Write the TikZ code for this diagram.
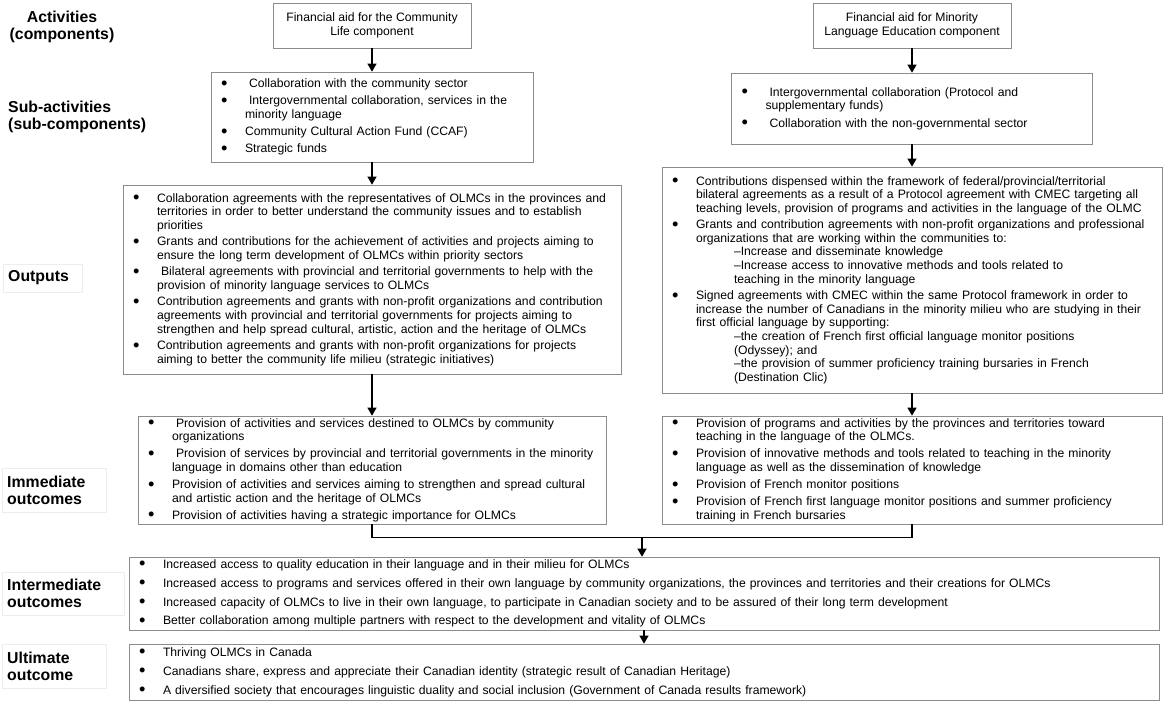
\documentclass[tikz,border=0pt]{standalone}
\usepackage{fontspec}
\setmainfont{Liberation Sans}
\usepackage{tikz}
\usetikzlibrary{positioning,arrows.meta,calc,shadows}

\newcommand{\bu}{\makebox[0.72cm][l]{\raisebox{-0.25ex}{\scalebox{1.5}{\textbullet}}}}
\newcommand{\ci}{\hspace*{0.72cm}}
\newcommand{\si}{\hspace*{1.86cm}}

\begin{document}
\begin{tikzpicture}[
    >={Triangle[length=0.24cm,width=0.27cm]},
    font=\fontsize{10.4}{11.6}\selectfont,
    box/.style={
        draw=black!45,
        line width=0.6pt,
        fill=white,
        drop shadow={shadow xshift=0.5pt,shadow yshift=-0.7pt,opacity=0.25},
        inner xsep=0.3cm,
        inner ysep=0pt
    },
    top/.style={box, align=center, minimum width=5.94cm, minimum height=1.35cm},
    blist/.style={box, align=left},
    lbl/.style={
        draw=black!7,
        font=\bfseries\fontsize{13.5}{14.5}\selectfont,
        align=left,
        inner xsep=0.15cm,
        anchor=west
    },
    arr/.style={->, line width=1.1pt}
]
\useasboundingbox (0,0) rectangle (35.1,-21.15);

% row labels
\node[lbl, draw=none, align=center, anchor=center] (lact) at (1.86,-0.81)
{Activities\\(components)};
\node[lbl, draw=none] (lsub) at (0.09,-3.51)
{Sub-activities\\(sub-components)};
\node[lbl, text width=2.07cm, minimum height=0.84cm] (lout) at (0.09,-8.34)
{Outputs};
\node[lbl, text width=2.82cm, minimum height=1.32cm] (limm) at (0.06,-14.7)
{Immediate\\outcomes};
\node[lbl, text width=3.36cm, minimum height=1.29cm] (lint) at (0.06,-17.8)
{Intermediate\\outcomes};
\node[lbl, text width=2.82cm, minimum height=1.32cm] (lult) at (0.06,-19.98)
{Ultimate\\outcome};

% components
\node[top] (a1) at (11.16,-0.765)
{Financial aid for the Community\\Life component};
\node[top] (a2) at (27.36,-0.765)
{Financial aid for Minority\\Language Education component};

% sub-components
\node[blist, text width=9.06cm, minimum height=2.7cm] (s1) at (11.16,-3.51)
{\bu\ Collaboration with the community sector\\[3pt]
\bu\ Intergovernmental collaboration, services in the\\
\ci minority language\\[3pt]
\bu Community Cultural Action Fund (CCAF)\\[3pt]
\bu Strategic funds};
\node[blist, text width=10.23cm, minimum height=2.13cm] (s2) at (27.36,-3.255)
{\bu\ Intergovernmental collaboration (Protocol and\\
\ci supplementary funds)\\[3pt]
\bu\ Collaboration with the non-governmental sector};

% outputs
\node[blist, text width=14.34cm, minimum height=5.67cm] (o1) at (11.16,-8.385)
{\bu Collaboration agreements with the representatives of OLMCs in the provinces and\\
\ci territories in order to better understand the community issues and to establish\\
\ci priorities\\[2.5pt]
\bu Grants and contributions for the achievement of activities and projects aiming to\\
\ci ensure the long term development of OLMCs within priority sectors\\[2.5pt]
\bu\ Bilateral agreements with provincial and territorial governments to help with the\\
\ci provision of minority language services to OLMCs\\[2.5pt]
\bu Contribution agreements and grants with non-profit organizations and contribution\\
\ci agreements with provincial and territorial governments for projects aiming to\\
\ci strengthen and help spread cultural, artistic, action and the heritage of OLMCs\\[2.5pt]
\bu Contribution agreements and grants with non-profit organizations for projects\\
\ci aiming to better the community life milieu (strategic initiatives)};
\node[blist, text width=14.4cm, minimum height=6.78cm] (o2) at (27.36,-8.4)
{\bu Contributions dispensed within the framework of federal/provincial/territorial\\
\ci bilateral agreements as a result of a Protocol agreement with CMEC targeting all\\
\ci teaching levels, provision of programs and activities in the language of the OLMC\\[2.5pt]
\bu Grants and contribution agreements with non-profit organizations and professional\\
\ci organizations that are working within the communities to:\\
\si --Increase and disseminate knowledge\\
\si --Increase access to innovative methods and tools related to\\
\si teaching in the minority language\\[2.5pt]
\bu Signed agreements with CMEC within the same Protocol framework in order to\\
\ci increase the number of Canadians in the minority milieu who are studying in their\\
\ci first official language by supporting:\\
\si --the creation of French first official language monitor positions\\
\si (Odyssey); and\\
\si --the provision of summer proficiency training bursaries in French\\
\si (Destination Clic)};

% immediate outcomes
\node[blist, text width=13.44cm, minimum height=3.24cm] (i1) at (11.16,-14.1)
{\bu\ Provision of activities and services destined to OLMCs by community\\
\ci organizations\\[3pt]
\bu\ Provision of services by provincial and territorial governments in the minority\\
\ci language in domains other than education\\[3pt]
\bu Provision of activities and services aiming to strengthen and spread cultural\\
\ci and artistic action and the heritage of OLMCs\\[3pt]
\bu Provision of activities having a strategic importance for OLMCs};
\node[blist, text width=14.4cm, minimum height=3.24cm] (i2) at (27.36,-14.1)
{\bu Provision of programs and activities by the provinces and territories toward\\
\ci teaching in the language of the OLMCs.\\[3pt]
\bu Provision of innovative methods and tools related to teaching in the minority\\
\ci language as well as the dissemination of knowledge\\[3pt]
\bu Provision of French monitor positions\\[3pt]
\bu Provision of French first language monitor positions and summer proficiency\\
\ci training in French bursaries};

% intermediate and ultimate outcomes
\node[blist, text width=30.3cm, minimum height=2.19cm] (im) at (19.32,-17.805)
{\bu Increased access to quality education in their language and in their milieu for OLMCs\\[4.5pt]
\bu Increased access to programs and services offered in their own language by community organizations, the provinces and territories and their creations for OLMCs\\[4.5pt]
\bu Increased capacity of OLMCs to live in their own language, to participate in Canadian society and to be assured of their long term development\\[4.5pt]
\bu Better collaboration among multiple partners with respect to the development and vitality of OLMCs};
\node[blist, text width=30.3cm, minimum height=1.68cm] (u) at (19.32,-20.16)
{\bu Thriving OLMCs in Canada\\[4.5pt]
\bu Canadians share, express and appreciate their Canadian identity (strategic result of Canadian Heritage)\\[4.5pt]
\bu A diversified society that encourages linguistic duality and social inclusion (Government of Canada results framework)};

\draw[arr] (a1) -- (s1);
\draw[arr] (a2) -- (s2);
\draw[arr] (s1) -- (o1);
\draw[arr] (s2) -- (o2);
\draw[arr] (o1) -- (i1);
\draw[arr] (o2) -- (i2);

\draw[line width=1.1pt] (i1.south) -- ++(0,-0.39) -| (i2.south);
\coordinate (jn) at ($(i1.south)!0.5!(i2.south)+(0,-0.39)$);
\draw[arr] (jn) -- (jn |- im.north);
\draw[arr] (im) -- (u);

\end{tikzpicture}
\end{document}
